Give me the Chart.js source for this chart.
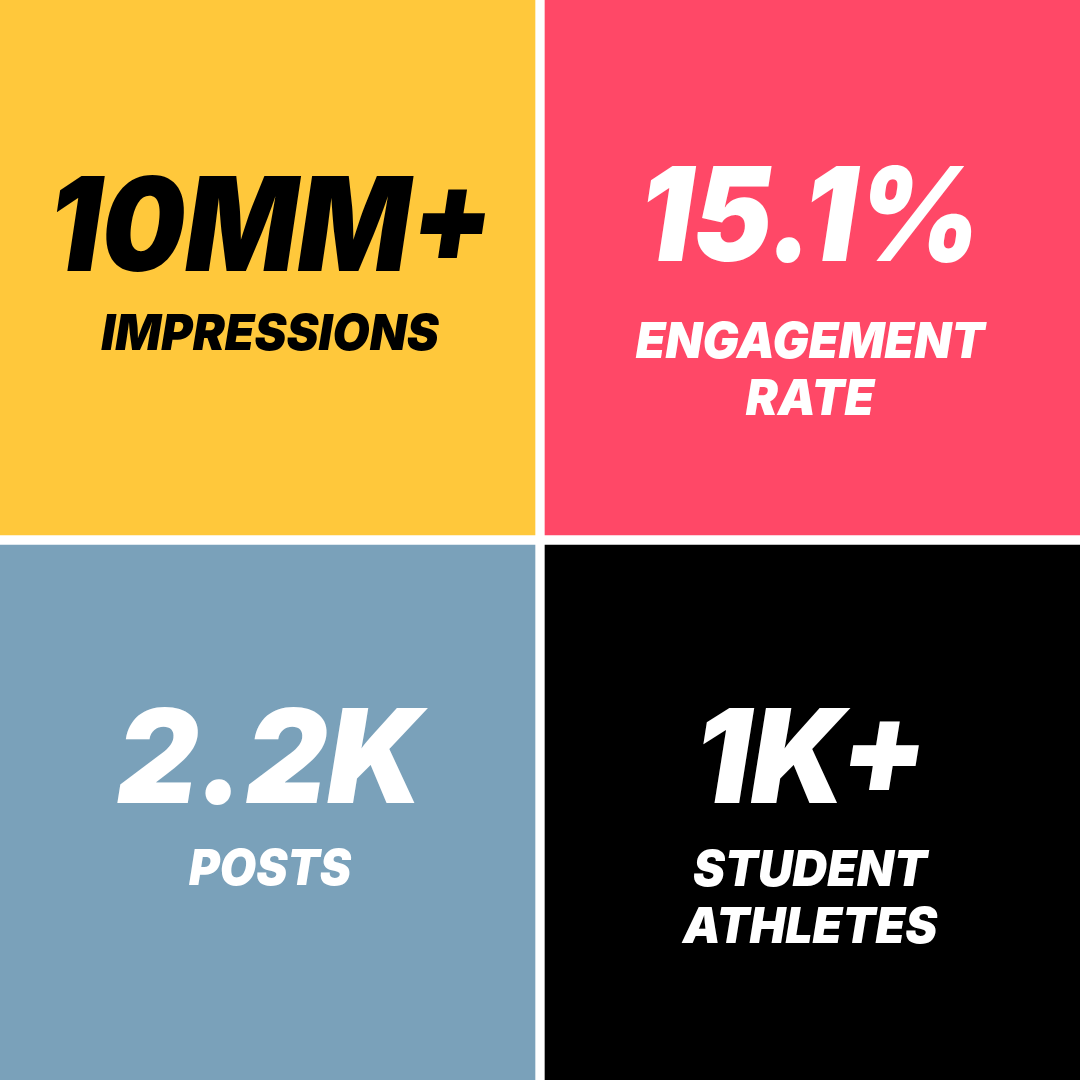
<!DOCTYPE html>
<html>
<head>
<meta charset="utf-8">
<script src="https://cdn.jsdelivr.net/npm/chart.js@4.4.0/dist/chart.umd.min.js"></script>
<style>
  html, body { margin: 0; padding: 0; background: #ffffff; }
  #wrap { width: 1080px; height: 1080px; }
</style>
</head>
<body>
<div id="wrap"><canvas id="tiles"></canvas></div>
<script>
// tiles: two columns, two rows
const columns = ['left', 'right'];
const topValues = ['10MM+', '15.1%'];
const topLabels = [['IMPRESSIONS'], ['ENGAGEMENT', 'RATE']];
const bottomValues = ['2.2K', '1K+'];
const bottomLabels = [['POSTS'], ['STUDENT', 'ATHLETES']];
const topRow = [[1, 2], [1, 2]];
const bottomRow = [[0, 1], [0, 1]];

const topColors = ['#FFC83B', '#FF4867'];
const bottomColors = ['#7AA1BA', '#000000'];
const topText = ['#000000', '#ffffff'];
const bottomText = ['#ffffff', '#ffffff'];
// text placement tweaks per tile (baseline shift from tile centre, gap to label, x squeeze)
const topShift = [1, -9];
const bottomShift = [-7, -7];
const topLabelGap = [79, 97];
const bottomLabelGap = [82, 83];
const topSqueeze = [0.905, 0.915];
const bottomSqueeze = [0.97, 0.96];
const labelSqueeze = [[0.96, 0.96], [0.94, 0.96]];

const FONT = '"Inter", "Noto Sans", sans-serif';
const GAP = 5;

const statText = {
    id: 'statText',
    afterDatasetsDraw(chart) {
        const ctx = chart.ctx;
        const rows = [
            {meta: chart.getDatasetMeta(0), values: topValues, labels: topLabels, colors: topText,
             shift: topShift, gap: topLabelGap, squeeze: topSqueeze, lsq: labelSqueeze[0]},
            {meta: chart.getDatasetMeta(1), values: bottomValues, labels: bottomLabels, colors: bottomText,
             shift: bottomShift, gap: bottomLabelGap, squeeze: bottomSqueeze, lsq: labelSqueeze[1]}
        ];
        ctx.save();
        ctx.textAlign = 'center';
        ctx.textBaseline = 'alphabetic';
        rows.forEach(row => {
            row.meta.data.forEach((bar, i) => {
                const cx = bar.x;
                const cy = (bar.y + bar.base) / 2;
                const y0 = cy + row.shift[i];
                ctx.fillStyle = row.colors[i];

                ctx.save();
                ctx.translate(cx, y0);
                ctx.scale(row.squeeze[i], 1);
                ctx.font = 'italic 900 130px ' + FONT;
                ctx.fillText(row.values[i], 0, 0);
                ctx.restore();

                ctx.font = 'italic 900 50px ' + FONT;
                row.labels[i].forEach((line, j) => {
                    ctx.save();
                    ctx.translate(cx, y0 + row.gap[i] + j * 57);
                    ctx.scale(row.lsq[i], 1);
                    ctx.fillText(line, 0, 0);
                    ctx.restore();
                });
            });
        });
        ctx.restore();
    }
};

new Chart(document.getElementById('tiles').getContext('2d'), {
    type: 'bar',
    data: {
        labels: columns,
        datasets: [{
            label: 'top',
            data: topRow,
            backgroundColor: topColors,
            borderColor: '#ffffff',
            borderWidth: [{right: GAP, bottom: GAP}, {left: GAP, bottom: GAP}],
            borderSkipped: false,
            barPercentage: 1,
            categoryPercentage: 1
        }, {
            label: 'bottom',
            data: bottomRow,
            backgroundColor: bottomColors,
            borderColor: '#ffffff',
            borderWidth: [{right: GAP, top: GAP}, {left: GAP, top: GAP}],
            borderSkipped: false,
            barPercentage: 1,
            categoryPercentage: 1
        }]
    },
    options: {
        responsive: true,
        maintainAspectRatio: false,
        animation: false,
        layout: { padding: 0 },
        plugins: {
            legend: { display: false },
            tooltip: { enabled: false }
        },
        scales: {
            x: { display: false, stacked: true, offset: true },
            y: { display: false, min: 0, max: 2 }
        }
    },
    plugins: [statText]
});
</script>
</body>
</html>
